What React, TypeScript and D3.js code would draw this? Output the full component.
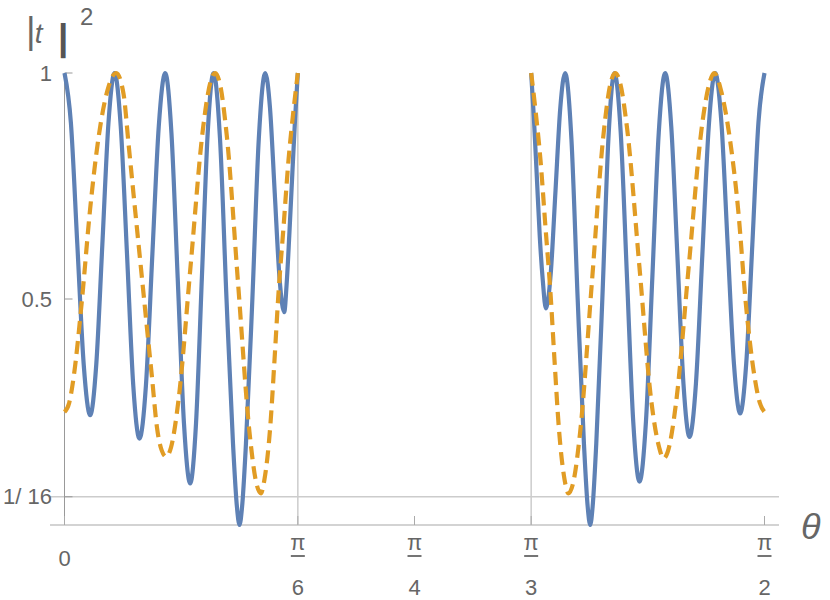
import * as d3 from "d3";

// theta in degrees, value = |t|^2
const blueLeft: [number, number][] = [
  [0, 1], [0.825, 0.889], [1.65, 0.62], [2.475, 0.354], [3.3, 0.243],
  [4.08, 0.354], [4.865, 0.62], [5.65, 0.889], [6.43, 1],
  [7.23, 0.882], [8.035, 0.6], [8.84, 0.309], [9.64, 0.191],
  [10.47, 0.309], [11.3, 0.6], [12.12, 0.882], [12.95, 1],
  [13.75, 0.867], [14.555, 0.546], [15.36, 0.225], [16.16, 0.092],
  [16.91, 0.225], [17.66, 0.546], [18.41, 0.867], [19.16, 1],
  [19.995, 0.854], [20.83, 0.5], [21.665, 0.18], [22.17, 0.04], [22.5, 0],
  [22.83, 0.04], [23.33, 0.18], [24.155, 0.5], [24.98, 0.854], [25.81, 1],
  [26.42, 0.923], [27.03, 0.735], [27.64, 0.548], [28.25, 0.471],
  [28.55, 0.53], [28.9, 0.64], [29.3, 0.78], [29.65, 0.9], [30, 1],
];

const blueRight: [number, number][] = [
  [60, 1], [60.35, 0.9], [60.7, 0.78], [61.1, 0.64], [61.5, 0.54], [61.89, 0.479],
  [62.51, 0.555], [63.13, 0.74], [63.75, 0.924], [64.37, 1],
  [65.175, 0.854], [65.98, 0.5], [66.785, 0.18], [67.27, 0.04], [67.59, 0],
  [67.9, 0.04], [68.37, 0.18], [69.15, 0.5], [69.93, 0.854], [70.71, 1],
  [71.515, 0.868], [72.32, 0.548], [73.125, 0.228], [73.93, 0.096],
  [74.755, 0.228], [75.58, 0.548], [76.405, 0.868], [77.23, 1],
  [78.01, 0.882], [78.795, 0.598], [79.58, 0.313], [80.36, 0.195],
  [81.185, 0.313], [82.01, 0.598], [82.835, 0.882], [83.66, 1],
  [84.46, 0.89], [85.265, 0.62], [86.07, 0.357], [86.87, 0.247],
  [87.65, 0.357], [88.435, 0.62], [89.22, 0.89], [90, 1],
];

const orangeLeft: [number, number][] = [
  [0, 0.25], [0.6, 0.27], [1.2, 0.33], [2.2, 0.49], [3.3, 0.7], [4.4, 0.86], [5.5, 0.96], [6.65, 1],
  [7.59, 0.954], [8.23, 0.844], [8.87, 0.733], [9.51, 0.623], [10.16, 0.512], [10.67, 0.424],
  [11.24, 0.328], [11.88, 0.217], [12.5, 0.165], [13.07, 0.151],
  [13.7, 0.172], [14.65, 0.275], [16.225, 0.576], [17.8, 0.876], [18.75, 0.979], [19.38, 1],
  [19.97, 0.977], [20.85, 0.864], [22.315, 0.535], [23.78, 0.206], [24.66, 0.093], [25.25, 0.07],
  [25.7, 0.1], [26.45, 0.217], [27.0, 0.365], [27.51, 0.512], [28.16, 0.659], [28.8, 0.807],
  [29.44, 0.917], [30, 1],
];

const orangeRight: [number, number][] = [
  [60, 1], [60.56, 0.917], [61.2, 0.807], [61.84, 0.659], [62.49, 0.512], [63.0, 0.365],
  [63.55, 0.217], [64.3, 0.1], [64.8, 0.07],
  [65.4, 0.093], [66.3, 0.206], [67.8, 0.535], [69.3, 0.864], [70.2, 0.977], [70.8, 1],
  [71.42, 0.979], [72.35, 0.875], [73.905, 0.574], [75.46, 0.272], [76.45, 0.172], [77.01, 0.147],
  [77.66, 0.168], [78.64, 0.272], [80.27, 0.574], [81.9, 0.875], [82.88, 0.975], [83.53, 1],
  [84.5, 0.955], [85.5, 0.86], [86.6, 0.7], [87.6, 0.49], [88.7, 0.33], [89.4, 0.27], [90, 0.25],
];

const xTicks = [0, 30, 45, 60, 90];
const xTickDen = ["", "6", "4", "3", "2"];
const xGrid = [30, 60];
const yTicks = [1, 0.5, 1 / 16];
const yTickLabels = ["1", "0.5", "1/ 16"];
const yGrid = [1 / 16];

const BLUE = "#5e81b5";
const ORANGE = "#e19c24";
const TEXT = "#666666";
const FONT = "'Liberation Sans', Arial, sans-serif";

export default function App() {
  const x = d3.scaleLinear().domain([0, 90]).range([64.5, 764.5]);
  const y = d3.scaleLinear().domain([0, 1]).range([525, 73]);
  const line = d3
    .line<[number, number]>()
    .x((d) => x(d[0]))
    .y((d) => y(d[1]))
    .curve(d3.curveMonotoneX);

  const left = 50;
  const right = 779;

  return (
    <svg
      width={830}
      height={600}
      style={{ position: "absolute", left: 0, top: 0, background: "#fff" }}
      fontFamily={FONT}
    >
      {/* grid */}
      {yGrid.map((v) => (
        <line key={"gy" + v} x1={left} x2={right} y1={y(v)} y2={y(v)} stroke="#cccccc" strokeWidth={1.5} />
      ))}
      {xGrid.map((v) => (
        <line key={"gx" + v} x1={x(v)} x2={x(v)} y1={y(1)} y2={y(0)} stroke="#cccccc" strokeWidth={1.5} />
      ))}

      {/* axes */}
      <line x1={left} x2={right} y1={y(0)} y2={y(0)} stroke="#c4c4c4" strokeWidth={1.5} />
      <line x1={x(0)} x2={x(0)} y1={y(1)} y2={y(0)} stroke="#999999" strokeWidth={1} />
      {yTicks.map((v) => (
        <line key={"ty" + v} x1={x(0)} x2={x(0) + 8} y1={y(v)} y2={y(v)} stroke="#999999" strokeWidth={1} />
      ))}
      {xTicks.map((v) => (
        <line key={"tx" + v} x1={x(v)} x2={x(v)} y1={y(0)} y2={y(0) - 9} stroke="#aaaaaa" strokeWidth={1} />
      ))}

      {/* tick labels */}
      {yTicks.map((v, i) => (
        <text key={"ly" + v} x={52} y={y(v)} dy="0.35em" textAnchor="end" fontSize={22} fill={TEXT}>
          {yTickLabels[i]}
        </text>
      ))}
      {xTicks.map((v, i) =>
        v === 0 ? (
          <text key={"lx" + v} x={x(v)} y={558} dy="0.35em" textAnchor="middle" fontSize={22} fill={TEXT}>
            0
          </text>
        ) : (
          <g key={"lx" + v} transform={`translate(${x(v)},0)`} fill={TEXT}>
            <text x={0} y={542} dy="0.35em" textAnchor="middle" fontSize={22}>
              π
            </text>
            <line x1={-7} x2={7} y1={556} y2={556} stroke={TEXT} strokeWidth={1.8} />
            <text x={0} y={587} dy="0.35em" textAnchor="middle" fontSize={22}>
              {xTickDen[i]}
            </text>
          </g>
        )
      )}

      {/* axis labels */}
      <g fill={TEXT}>
        <text x={26} y={43}>
          <tspan fontSize={37}>|</tspan>
          <tspan fontSize={28} fontStyle="italic" dx={-1}>t</tspan>
        </text>
        <text x={58} y={50} fontSize={37} fontWeight="bold" fill="#555">|</text>
        <text x={80} y={25} fontSize={24}>2</text>
        <text x={801} y={539} fontSize={36} fontStyle="italic">θ</text>
      </g>

      {/* curves */}
      {[blueLeft, blueRight].map((d, i) => (
        <path key={"b" + i} d={line(d) ?? ""} fill="none" stroke={BLUE} strokeWidth={4.2} strokeLinejoin="round" />
      ))}
      {[orangeLeft, orangeRight].map((d, i) => (
        <path
          key={"o" + i}
          d={line(d) ?? ""}
          fill="none"
          stroke={ORANGE}
          strokeWidth={4.2}
          strokeDasharray="13,7"
        />
      ))}
    </svg>
  );
}
